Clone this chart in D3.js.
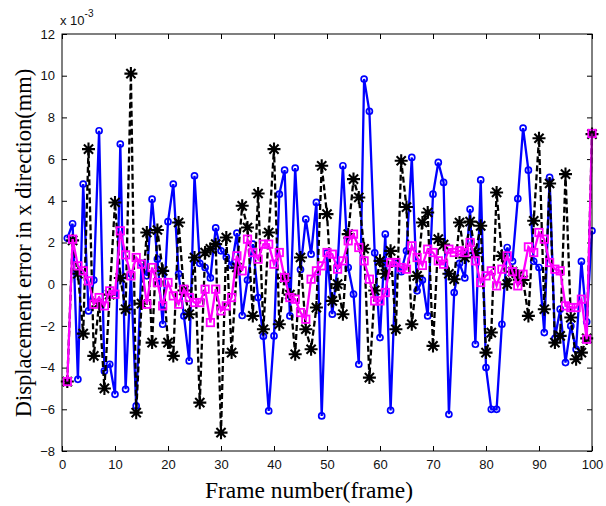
<!DOCTYPE html>
<html>
<head>
<meta charset="utf-8">
<script src="https://cdn.jsdelivr.net/npm/d3@7"></script>
<style>
  body { margin: 0; background: #fff; }
  svg { display: block; }
</style>
</head>
<body>
<div id="chart"></div>
<script>
// values are in units of 10^-3 mm, one per frame (1..100)
const frames = d3.range(1, 101);

const blueErr = [
  2.2, 2.9, -4.56, 4.8, -1.28, 0.2, 7.36, -4.16, -3.84, -5.28,
  6.72, -5.04, 0.5, -5.84, 1.0, 0.4, 4.08, 1.2, -1.92, 3.0,
  4.8, 0.5, -1.52, -3.68, 5.2, 1.0, 0.8, 0.3, 2.7, 1.6,
  1.3, 0.9, 2.45, -1.5, 0.2, 1.92, -0.64, -2.5, -6.08, -2.48,
  4.32, 5.47, -1.52, 5.57, 0.7, 3.12, 1.44, 3.92, -6.32, 1.5,
  -1.44, 0.9, 5.68, 0.8, -0.48, -3.84, 9.84, 8.29, 1.5, -2.56,
  2.4, -6.05, 1.0, 0.6, 1.6, 6.08, -0.32, 0.2, -1.52, 4.32,
  5.84, 4.88, -6.24, -0.4, 1.0, 0.3, 3.6, -2.88, 5.0, -4.0,
  -6.0, -6.0, -1.92, 1.76, 1.1, 4.1, 7.49, 5.47, 1.1, 0.8,
  -2.32, 5.12, -2.6, -1.2, -3.76, -2.0, -3.12, 1.09, -1.8, 2.56
];

const blackErr = [
  -4.67, 2.1, 0.5, -2.37, 6.48, -3.44, -0.9, -5.0, -0.5, 3.92,
  0.3, -1.2, 10.1, -6.16, -0.93, 2.48, -2.8, 2.6, 0.64, -2.8,
  -3.44, 2.96, -0.3, -1.44, 1.28, -5.68, 1.52, 1.7, 1.92, -7.12,
  2.24, -3.28, 0.8, 3.76, 2.72, -1.52, 4.35, -2.16, 2.48, 6.48,
  -1.92, 0.3, -0.5, -3.36, 1.28, -2.16, -3.12, -1.12, 5.68, 3.36,
  -0.8, 0.0, -1.44, 2.4, 5.04, 4.16, 1.7, -4.48, -0.3, 1.12,
  0.5, 1.6, -2.16, 5.92, 3.7, -1.92, 0.4, 2.96, 3.44, -2.96,
  2.16, 1.9, 0.5, 0.24, 2.96, 1.28, 3.0, 1.5, 2.8, -3.28,
  -2.32, 4.4, 1.36, 0.0, 0.6, 0.4, 0.2, -1.52, 3.04, 7.0,
  -1.2, 4.83, -2.8, -2.48, 5.28, -1.6, -3.6, -3.28, -2.6, 7.2
];

const magentaErr = [
  -4.67, 2.16, 0.88, 0.64, 0.16, -0.96, -0.64, -1.04, -0.32, -0.48,
  2.56, 1.41, 0.4, 1.28, 0.96, -0.96, 0.8, 0.08, -1.04, 0.08,
  -0.56, -0.96, -0.24, -0.64, -0.88, -0.88, -0.24, -1.84, -0.24, -1.28,
  -1.04, -0.64, 1.36, 0.64, 2.16, 1.52, 1.2, 1.92, 1.92, 0.96,
  1.52, 0.32, -0.64, -0.72, -1.36, -1.68, 0.24, 0.64, 0.88, 1.52,
  1.44, 0.72, 1.12, 2.08, 2.4, 1.76, 1.12, 0.24, -0.8, -0.8,
  -0.4, 1.04, 1.04, 0.8, 0.72, 1.84, 1.28, 0.9, 1.68, 1.52,
  1.12, 0.96, 1.68, 1.52, 1.6, 1.52, 2.0, 1.12, 0.08, 0.4,
  0.64, -0.08, 0.72, 1.36, 0.6, -0.08, 0.48, 1.79, 1.52, 2.48,
  2.16, 1.04, 0.72, 0.64, -1.04, -1.12, -1.12, -0.72, -2.64, 7.23
];

const xTicks = d3.range(0, 101, 10);
const yTicks = d3.range(-8, 13, 2);

const width = 606, height = 506;
const margin = { top: 34, right: 14, bottom: 55, left: 62 };
const innerW = width - margin.left - margin.right;
const innerH = height - margin.top - margin.bottom;

const svg = d3.select('#chart').append('svg')
  .attr('width', width)
  .attr('height', height);

const x = d3.scaleLinear().domain([0, 100]).range([0, innerW]);
const y = d3.scaleLinear().domain([-8, 12]).range([innerH, 0]);

const g = svg.append('g').attr('transform', `translate(${margin.left},${margin.top})`);

// clip so markers do not spill far outside the box
svg.append('defs').append('clipPath').attr('id', 'plotClip')
  .append('rect').attr('x', -7).attr('y', -7).attr('width', innerW + 14).attr('height', innerH + 14);

const tickFont = '"Liberation Sans", Arial, sans-serif';

// axes, ticks inward on all four sides
const xBottom = d3.axisBottom(x).tickValues(xTicks).tickSizeInner(-5).tickSizeOuter(0).tickPadding(9);
const xTop = d3.axisTop(x).tickValues(xTicks).tickSizeInner(-5).tickSizeOuter(0).tickFormat('');
const yLeft = d3.axisLeft(y).tickValues(yTicks).tickSizeInner(-5).tickSizeOuter(0).tickPadding(7);
const yRight = d3.axisRight(y).tickValues(yTicks).tickSizeInner(-5).tickSizeOuter(0).tickFormat('');

function styleAxis(sel) {
  sel.select('.domain').remove();
  sel.selectAll('line').attr('stroke', '#000').attr('stroke-width', 1);
  sel.selectAll('text').attr('fill', '#111').style('font-family', tickFont).style('font-size', '13px');
}

g.append('g').attr('transform', `translate(0,${innerH})`).call(xBottom).call(styleAxis);
g.append('g').call(xTop).call(styleAxis);
g.append('g').call(yLeft).call(styleAxis);
g.append('g').attr('transform', `translate(${innerW},0)`).call(yRight).call(styleAxis);

const plot = g.append('g').attr('clip-path', 'url(#plotClip)');

const line = d3.line().x((d, i) => x(frames[i])).y(d => y(d));

// blue solid with circles
plot.append('path').datum(blueErr)
  .attr('fill', 'none').attr('stroke', '#0000ff').attr('stroke-width', 2.3)
  .attr('d', line);
plot.append('g').selectAll('circle').data(blueErr).join('circle')
  .attr('cx', (d, i) => x(frames[i])).attr('cy', d => y(d)).attr('r', 3)
  .attr('fill', 'none').attr('stroke', '#0000ff').attr('stroke-width', 1.7);

// black dashed with asterisks
plot.append('path').datum(blackErr)
  .attr('fill', 'none').attr('stroke', '#000').attr('stroke-width', 2.3)
  .attr('stroke-dasharray', '6,3')
  .attr('d', line);
const ar = 6.5, ad = ar * Math.SQRT1_2;
const starPath = `M${-ar},0L${ar},0M0,${-ar}L0,${ar}M${-ad},${-ad}L${ad},${ad}M${-ad},${ad}L${ad},${-ad}`;
plot.append('g').selectAll('path').data(blackErr).join('path')
  .attr('transform', (d, i) => `translate(${x(frames[i])},${y(d)})`)
  .attr('d', starPath)
  .attr('fill', 'none').attr('stroke', '#000').attr('stroke-width', 2.1);

// magenta solid with squares
plot.append('path').datum(magentaErr)
  .attr('fill', 'none').attr('stroke', '#ff00ff').attr('stroke-width', 2.3)
  .attr('d', line);
plot.append('g').selectAll('rect').data(magentaErr).join('rect')
  .attr('x', (d, i) => x(frames[i]) - 3.7).attr('y', d => y(d) - 3.7)
  .attr('width', 7.4).attr('height', 7.4)
  .attr('fill', 'none').attr('stroke', '#ff00ff').attr('stroke-width', 1.8);

// box
g.append('rect').attr('width', innerW).attr('height', innerH)
  .attr('fill', 'none').attr('stroke', '#000').attr('stroke-width', 1);

// exponent label
const expo = svg.append('text').attr('x', margin.left - 2).attr('y', 25)
  .style('font-family', tickFont).style('font-size', '13px').attr('fill', '#111');
expo.append('tspan').text('x 10');
expo.append('tspan').attr('dy', -8).style('font-size', '10px').text('-3');

// axis titles
const titleFont = '"Liberation Serif", "Times New Roman", serif';
svg.append('text')
  .attr('x', 309).attr('y', 498)
  .attr('text-anchor', 'middle')
  .style('font-family', titleFont).style('font-size', '23.5px')
  .text('Frame number(frame)');

svg.append('text')
  .attr('transform', `translate(31,243) rotate(-90)`)
  .attr('text-anchor', 'middle')
  .style('font-family', titleFont).style('font-size', '22.5px')
  .text('Displacement error in x direction(mm)');
</script>
</body>
</html>
